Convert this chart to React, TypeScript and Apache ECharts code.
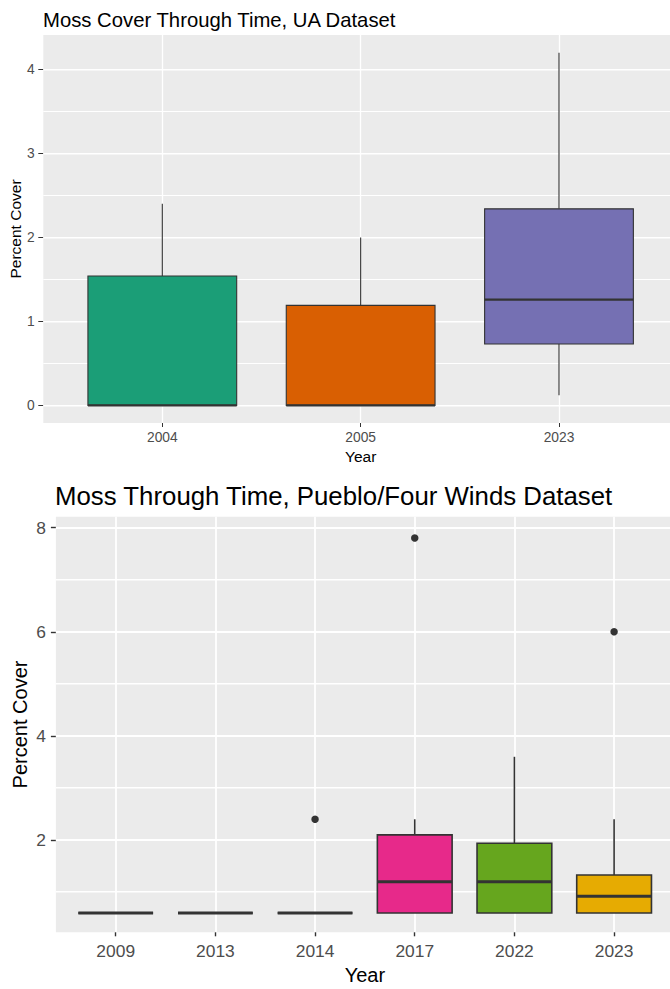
import React, { useEffect, useRef } from "react";
import * as echarts from "echarts";

// UA dataset: one box per survey year, [min, Q1, median, Q3, max]
const uaYears = ["2004", "2005", "2023"];
const uaStats = [
  [0, 0, 0, 1.54, 2.4],
  [0, 0, 0, 1.19, 2.0],
  [0.12, 0.73, 1.26, 2.34, 4.2],
];
const uaColors = ["#1B9E77", "#D95F02", "#7570B3"];

// Pueblo/Four Winds dataset
const pfwYears = ["2009", "2013", "2014", "2017", "2022", "2023"];
const pfwStats = [
  [0.6, 0.6, 0.6, 0.6, 0.6],
  [0.6, 0.6, 0.6, 0.6, 0.6],
  [0.6, 0.6, 0.6, 0.6, 0.6],
  [0.6, 0.6, 1.2, 2.1, 2.4],
  [0.6, 0.6, 1.2, 1.94, 3.6],
  [0.6, 0.6, 0.92, 1.33, 2.4],
];
const pfwColors = ["#1B9E77", "#D95F02", "#7570B3", "#E7298A", "#66A61E", "#E6AB02"];
const pfwOutlierYears = ["2014", "2017", "2023"];
const pfwOutlierValues = [2.4, 7.8, 6.0];

// axis breaks
const uaMajor = [0, 1, 2, 3, 4];
const uaMinor = [0.5, 1.5, 2.5, 3.5];
const pfwMajor = [2, 4, 6, 8];
const pfwMinor = [1, 3, 5, 7];

const FONT = "Liberation Sans, Arial, sans-serif";
const PANEL = "#EBEBEB";
const INK = "#333333";
const TICK_TEXT = "#4D4D4D";

// discrete x scale padding on each side of the first/last category
const X_PAD = 0.6;

type Rule = { values: number[]; width: number };

// white horizontal panel rules, snapped to whole pixels so they stay crisp
function ruleBands(api: any, nCats: number, rules: Rule[]) {
  const x0 = -X_PAD;
  const x1 = nCats - 1 + X_PAD;
  const out: any[] = [];
  rules.forEach((r) => {
    r.values.forEach((v) => {
      const a = api.coord([x0, v]);
      const b = api.coord([x1, v]);
      const top = Math.round(a[1] - r.width / 2);
      out.push({
        type: "rect",
        z2: -10,
        silent: true,
        shape: { x: a[0], y: top, width: b[0] - a[0], height: r.width },
        style: { fill: "#FFFFFF", stroke: null },
      });
    });
  });
  return out;
}

function boxRenderer(
  colors: string[],
  line: number,
  medianLine: number,
  nCats: number,
  rules: Rule[]
) {
  return (params: any, api: any) => {
    const x = api.value(0);
    const pLo = api.coord([x, api.value(1)]);
    const pQ1 = api.coord([x, api.value(2)]);
    const pMed = api.coord([x, api.value(3)]);
    const pQ3 = api.coord([x, api.value(4)]);
    const pHi = api.coord([x, api.value(5)]);
    const bw = api.size([1, 0])[0] * 0.75;
    const cx = pMed[0];
    const left = cx - bw / 2;
    const thin = { stroke: INK, lineWidth: line };
    const children: any[] = params.dataIndex === 0 ? ruleBands(api, nCats, rules) : [];
    children.push(
      { type: "line", shape: { x1: cx, y1: pQ3[1], x2: cx, y2: pHi[1] }, style: thin },
      { type: "line", shape: { x1: cx, y1: pLo[1], x2: cx, y2: pQ1[1] }, style: thin },
      {
        type: "rect",
        shape: { x: left, y: pQ3[1], width: bw, height: pQ1[1] - pQ3[1] },
        style: { fill: colors[params.dataIndex], stroke: INK, lineWidth: line },
      },
      {
        type: "line",
        shape: { x1: left, y1: pMed[1], x2: left + bw, y2: pMed[1] },
        style: { stroke: INK, lineWidth: medianLine },
      }
    );
    return { type: "group", children };
  };
}

function xAxisFor(
  gridIndex: number,
  cats: string[],
  fontSize: number,
  margin: number,
  nameSize: number,
  nameGap: number,
  gridW: number,
  tickW: number
) {
  const idx = cats.map((_, i) => i);
  return {
    type: "value",
    gridIndex,
    min: -X_PAD,
    max: cats.length - 1 + X_PAD,
    axisLine: { show: false, onZero: false },
    axisTick: { show: true, length: 4, customValues: idx, lineStyle: { color: INK, width: tickW } },
    axisLabel: {
      customValues: idx,
      formatter: (v: number) => cats[Math.round(v)],
      margin,
      color: TICK_TEXT,
      fontSize,
      fontFamily: FONT,
    },
    splitLine: { show: true, lineStyle: { color: "#FFFFFF", width: gridW } },
    name: "Year",
    nameLocation: "middle",
    nameGap,
    nameMoveOverlap: false,
    nameTextStyle: { color: "#000", fontSize: nameSize, fontFamily: FONT },
  };
}

function yAxisFor(
  gridIndex: number,
  min: number,
  max: number,
  major: number[],
  fontSize: number,
  margin: number,
  nameSize: number,
  nameGap: number,
  tickW: number
) {
  return {
    type: "value",
    gridIndex,
    min,
    max,
    axisLine: { show: false, onZero: false },
    axisTick: { show: true, length: 5, customValues: major, lineStyle: { color: INK, width: tickW } },
    axisLabel: {
      customValues: major,
      formatter: (v: number) => String(v),
      margin,
      color: TICK_TEXT,
      fontSize,
      fontFamily: FONT,
    },
    splitLine: { show: false },
    name: "Percent Cover",
    nameLocation: "middle",
    nameGap,
    nameMoveOverlap: false,
    nameTextStyle: { color: "#000", fontSize: nameSize, fontFamily: FONT },
  };
}

export default function App() {
  const ref = useRef<HTMLDivElement>(null);

  useEffect(() => {
    if (!ref.current) return;
    const chart = echarts.init(ref.current, undefined, { renderer: "svg" });

    const uaData = uaStats.map((s, i) => [i, ...s]);
    const pfwData = pfwStats.map((s, i) => [i, ...s]);
    const outliers = pfwOutlierYears.map((y, i) => [pfwYears.indexOf(y), pfwOutlierValues[i]]);

    const uaRules: Rule[] = [
      { values: uaMinor, width: 1 },
      { values: uaMajor, width: 1.5 },
    ];
    const pfwRules: Rule[] = [
      { values: pfwMinor, width: 1.5 },
      { values: pfwMajor, width: 2 },
    ];

    chart.setOption({
      animation: false,
      backgroundColor: "#FFFFFF",
      title: [
        {
          text: "Moss Cover Through Time, UA Dataset",
          left: 43,
          top: 10,
          padding: 0,
          textStyle: { color: "#000", fontSize: 20.3, fontWeight: "normal", fontFamily: FONT },
        },
        {
          text: "Moss Through Time, Pueblo/Four Winds Dataset",
          left: 55,
          top: 483,
          padding: 0,
          textStyle: { color: "#000", fontSize: 25.8, fontWeight: "normal", fontFamily: FONT },
        },
      ],
      grid: [
        {
          left: 43.3, top: 35, width: 634.7, height: 388,
          outerBoundsMode: "none", containLabel: false,
          show: true, backgroundColor: PANEL, borderWidth: 0,
        },
        {
          left: 55.9, top: 516.7, width: 618, height: 415.6,
          outerBoundsMode: "none", containLabel: false,
          show: true, backgroundColor: PANEL, borderWidth: 0,
        },
      ],
      xAxis: [
        xAxisFor(0, uaYears, 13.8, 7, 15.5, 25, 1.3, 1),
        xAxisFor(1, pfwYears, 17.4, 10, 20, 33, 1.8, 1.4),
      ],
      yAxis: [
        yAxisFor(0, -0.21, 4.41, uaMajor, 13.8, 8.5, 15.5, 20, 1),
        yAxisFor(1, 0.23, 8.21, pfwMajor, 17.4, 10, 20, 26, 1.4),
      ],
      series: [
        {
          type: "custom",
          xAxisIndex: 0,
          yAxisIndex: 0,
          data: uaData,
          encode: { x: 0, y: [1, 2, 3, 4, 5] },
          renderItem: boxRenderer(uaColors, 1.1, 2.2, uaYears.length, uaRules),
          z: 5,
        },
        {
          type: "custom",
          xAxisIndex: 1,
          yAxisIndex: 1,
          data: pfwData,
          encode: { x: 0, y: [1, 2, 3, 4, 5] },
          renderItem: boxRenderer(pfwColors, 1.6, 3, pfwYears.length, pfwRules),
          z: 5,
        },
        {
          type: "scatter",
          xAxisIndex: 1,
          yAxisIndex: 1,
          data: outliers,
          symbol: "circle",
          symbolSize: 7.5,
          itemStyle: { color: INK, opacity: 1 },
          z: 6,
        },
      ],
    });

    return () => chart.dispose();
  }, []);

  return (
    <div
      ref={ref}
      style={{ position: "absolute", left: 0, top: 0, width: 670, height: 989 }}
    />
  );
}
